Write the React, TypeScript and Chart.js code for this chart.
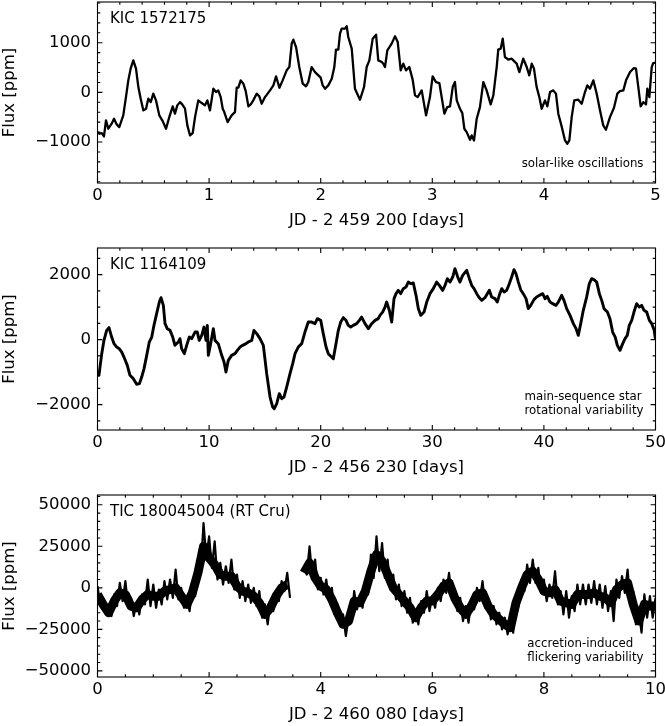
import React, { useEffect, useRef } from 'react';
import { Chart, registerables } from 'chart.js';

Chart.register(...registerables);

const FONT = '"DejaVu Sans", sans-serif';

// ---------- Panel 1: KIC 1572175 ----------
const p1Time = [
  0.0, 0.016, 0.038, 0.058, 0.076, 0.097, 0.127, 0.148, 0.172, 0.195,
  0.231, 0.255, 0.276, 0.297, 0.321, 0.345, 0.366, 0.387, 0.411, 0.435,
  0.455, 0.477, 0.5, 0.524, 0.554, 0.584, 0.614, 0.643, 0.674, 0.694,
  0.715, 0.739, 0.759, 0.784, 0.805, 0.829, 0.853, 0.874, 0.903, 0.934,
  0.963, 0.984, 1.008, 1.038, 1.062, 1.082, 1.104, 1.122, 1.136, 1.166,
  1.202, 1.232, 1.247, 1.262, 1.283, 1.307, 1.328, 1.352, 1.373, 1.396,
  1.426, 1.45, 1.471, 1.501, 1.546, 1.576, 1.6, 1.63, 1.659, 1.695,
  1.719, 1.74, 1.755, 1.779, 1.808, 1.839, 1.868, 1.889, 1.919, 1.949,
  1.979, 2.0, 2.018, 2.039, 2.068, 2.099, 2.122, 2.137, 2.158, 2.173,
  2.188, 2.218, 2.233, 2.247, 2.278, 2.307, 2.352, 2.388, 2.412, 2.436,
  2.466, 2.496, 2.516, 2.547, 2.561, 2.576, 2.597, 2.636, 2.666, 2.69,
  2.717, 2.74, 2.764, 2.794, 2.824, 2.845, 2.869, 2.905, 2.944, 2.979,
  3.003, 3.033, 3.063, 3.084, 3.108, 3.134, 3.159, 3.183, 3.203, 3.219,
  3.248, 3.269, 3.287, 3.308, 3.338, 3.353, 3.374, 3.398, 3.427, 3.457,
  3.487, 3.523, 3.547, 3.577, 3.591, 3.613, 3.631, 3.651, 3.681, 3.711,
  3.735, 3.756, 3.78, 3.815, 3.846, 3.869, 3.891, 3.911, 3.935, 3.959,
  3.98, 4.01, 4.031, 4.055, 4.084, 4.108, 4.129, 4.159, 4.189, 4.21,
  4.228, 4.249, 4.272, 4.308, 4.339, 4.368, 4.389, 4.413, 4.443, 4.473,
  4.503, 4.532, 4.556, 4.592, 4.628, 4.658, 4.682, 4.712, 4.736, 4.772,
  4.807, 4.825, 4.846, 4.867, 4.891, 4.915, 4.927, 4.945, 4.966, 4.98,
  5.0,
];
const p1Flux = [
  -800, -833, -820, -887, -565, -732, -631, -530, -645, -700,
  -464, -95, 242, 478, 645, 478, 107, -127, -363, -329,
  -127, -196, -26, -161, -464, -579, -732, -498, -282, -429,
  -262, -196, -242, -329, -665, -867, -820, -498, -161, -215,
  -262, -161, -363, 74, 7, 40, -95, -329, -397, -598,
  -464, -397, 94, 94, 242, 175, 27, -282, -242, -161,
  -26, -81, -228, -95, 40, 141, 323, 94, 242, 444,
  510, 982, 1062, 913, 510, 175, 121, 208, 510, 409,
  343, 296, 141, 74, 141, 276, 510, 861, 861, 1183,
  1284, 1284, 1331, 1115, 881, 74, -148, 107, 510, 645,
  1082, 1163, 645, 612, 578, 510, 847, 982, 1129, 1015,
  444, 578, 444, 510, 256, -60, -95, 40, -464, -95,
  323, 208, 188, -95, -429, -296, -282, 107, 208, -161,
  -329, -417, -732, -800, -954, -867, -968, -530, -296, 208,
  40, -242, -60, 510, 861, 881, 1082, 712, 659, 679,
  625, 578, 409, 679, 510, 343, 578, 478, 107, -95,
  -329, -161, -282, 7, 40, -26, -429, -685, -968, -1034,
  -968, -498, -161, -148, -228, 7, 141, 74, 242, -26,
  -363, -665, -753, -498, -309, -26, 27, 40, 242, 409,
  490, 478, 107, -282, -196, -242, 74, -95, 510, 591,
  600,
];
const p1XTicks = [0, 1, 2, 3, 4, 5];
const p1YTicks = [-1000, 0, 1000];

// ---------- Panel 2: KIC 1164109 ----------
const p2Time = [
  0.02, 0.13, 0.38, 0.58, 0.82, 1.03, 1.27, 1.48, 1.72, 1.95,
  2.17, 2.37, 2.67, 2.91, 3.21, 3.51, 3.75, 3.96, 4.17, 4.41,
  4.64, 4.86, 5.06, 5.3, 5.54, 5.69, 5.9, 6.05, 6.25, 6.5,
  6.74, 6.94, 7.24, 7.39, 7.54, 7.78, 7.99, 8.23, 8.44, 8.74,
  8.94, 9.12, 9.34, 9.54, 9.72, 9.84, 9.93, 10.14, 10.38, 10.53,
  10.82, 11.13, 11.34, 11.51, 11.72, 12.02, 12.32, 12.53, 12.77, 13.01,
  13.31, 13.51, 13.82, 14.02, 14.27, 14.56, 14.86, 15.16, 15.46, 15.7,
  15.84, 16.06, 16.29, 16.51, 16.71, 16.95, 17.25, 17.49, 17.7, 17.99,
  18.3, 18.59, 18.89, 19.19, 19.49, 19.7, 20.0, 20.23, 20.48, 20.68,
  21.13, 21.37, 21.58, 21.79, 22.03, 22.27, 22.47, 22.69, 22.92, 23.22,
  23.46, 23.67, 23.97, 24.27, 24.57, 24.87, 25.16, 25.31, 25.55, 25.76,
  25.91, 26.15, 26.36, 26.57, 26.75, 26.95, 27.17, 27.4, 27.64, 27.85,
  28.06, 28.3, 28.54, 28.75, 28.96, 29.26, 29.5, 29.79, 30.09, 30.39,
  30.63, 30.93, 31.14, 31.35, 31.59, 31.83, 32.03, 32.28, 32.48, 32.72,
  33.08, 33.32, 33.53, 33.74, 33.98, 34.21, 34.43, 34.72, 34.93, 35.11,
  35.32, 35.62, 35.82, 36.0, 36.22, 36.43, 36.67, 36.9, 37.11, 37.32,
  37.5, 37.71, 37.92, 38.15, 38.4, 38.6, 38.82, 39.11, 39.35, 39.59,
  39.89, 40.1, 40.3, 40.55, 40.79, 41.08, 41.29, 41.59, 41.8, 42.04,
  42.34, 42.64, 42.88, 43.08, 43.3, 43.53, 43.83, 44.07, 44.28, 44.49,
  44.73, 44.97, 45.18, 45.39, 45.69, 45.92, 46.16, 46.39, 46.58, 46.82,
  47.06, 47.27, 47.47, 47.65, 47.87, 48.07, 48.31, 48.55, 48.76, 48.97,
  49.21, 49.45, 49.66, 49.87, 50.0,
];
const p2Flux = [
  -1050, -1098, -431, -22, 286, 369, 80, -123, -228, -277,
  -382, -535, -791, -1098, -1200, -1375, -1354, -1151, -892, -483,
  -74, 80, 440, 800, 1157, 1292, 1055, 492, 338, 286,
  80, -175, -74, 31, -277, -431, -175, 80, 31, 234,
  234, -22, 132, 388, -22, 440, -483, -123, 338, -22,
  -123, -483, -689, -997, -637, -483, -431, -329, -228, -175,
  -123, -74, -22, 286, 185, 31, -175, -1046, -1766, -2074,
  -2123, -1969, -1662, -1815, -1766, -1458, -1046, -738, -431, -228,
  -123, 234, 541, 541, 492, 646, 594, 185, -228, -431,
  -585, -123, 286, 541, 677, 594, 440, 388, 440, 492,
  594, 695, 492, 338, 492, 594, 646, 748, 849, 1003,
  1157, 902, 541, 1262, 1415, 1517, 1415, 1569, 1618, 1772,
  1723, 1742, 1363, 954, 748, 849, 1157, 1415, 1569, 1772,
  1671, 1517, 1671, 1877, 1772, 1926, 2185, 1926, 1772, 1978,
  2132, 1877, 1671, 1569, 1415, 1292, 1209, 1292, 1415, 1517,
  1311, 1262, 1157, 1363, 1569, 1465, 1517, 1723, 1926, 2154,
  2031, 1772, 1538, 1415, 1262, 954, 1055, 1231, 1311, 1363,
  1415, 1262, 1332, 1157, 1108, 1055, 1157, 1363, 1209, 954,
  748, 492, 338, 132, 492, 902, 1311, 1723, 1877, 1846,
  1772, 1415, 1209, 954, 849, 646, 234, 80, -175, -329,
  -123, 31, 132, 440, 594, 849, 1108, 1003, 1055, 902,
  849, 594, 492, 308, 0,
];
const p2XTicks = [0, 10, 20, 30, 40, 50];
const p2YTicks = [-2000, 0, 2000];

// ---------- Panel 3: TIC 180045004 (RT Cru) ----------
// band centre and upper edge of the flickering light curve, read every 0.1 d from 0.0 d
const p3Time = [
  0.0, 0.1, 0.2, 0.3, 0.4, 0.5, 0.6, 0.7, 0.8, 0.9,
  1.0, 1.1, 1.2, 1.3, 1.4, 1.5, 1.6, 1.7, 1.8, 1.9,
  2.0, 2.1, 2.2, 2.3, 2.4, 2.5, 2.6, 2.7, 2.8, 2.9,
  3.0, 3.1, 3.2, 3.3, 3.4, 3.5, 3.6, 3.7, 3.8, 3.9,
  4.0, 4.1, 4.2, 4.3, 4.4, 4.5, 4.6, 4.7, 4.8, 4.9,
  5.0, 5.1, 5.2, 5.3, 5.4, 5.5, 5.6, 5.7, 5.8, 5.9,
  6.0, 6.1, 6.2, 6.3, 6.4, 6.5, 6.6, 6.7, 6.8, 6.9,
  7.0, 7.1, 7.2, 7.3, 7.4, 7.5, 7.6, 7.7, 7.8, 7.9,
  8.0, 8.1, 8.2, 8.3, 8.4, 8.5, 8.6, 8.7, 8.8, 8.9,
  9.0, 9.1, 9.2, 9.3, 9.4, 9.5, 9.6, 9.7, 9.8, 9.9,
  10.0,
];
const p3Center = [
  -4000, -10000, -15000, -8000, -3000, -4000, -11000, -12000, -7000, -4000,
  -5000, -5000, -2000, -1000, 0, -5000, -10000, -3000, 9000, 25000,
  18000, 14000, 8000, 7000, 7000, 1000, -2000, -3000, -5000, -9000,
  -16000, -12000, -5000, 0, 2000, null, null, 9000, 15000, 6000,
  1000, -1000, -7000, -15000, -22000, -20000, -8000, -9000, -2000, 10000,
  20000, 16000, 8000, 0, -4000, -8000, -12000, -18000, -12000, -8000,
  -8000, -4000, 1000, 3000, -6000, -12000, -16000, -11000, -4000, -3000,
  -11000, -16000, -19000, -22000, -24000, -9000, 0, 8000, 10000, 5000,
  -2000, -3000, -1000, -8000, -9000, -10000, -4000, -4000, -4000, -3000,
  -5000, -6000, -9000, -1000, 2000, 3000, -10000, -20000, -10000, -11000,
  -11000,
];
const p3Upper = [
  1000, -6000, -12000, -4000, 3000, 4000, -6000, -9000, -4000, 5000,
  2000, -1000, 4000, 5000, 11000, 0, -6000, 0, 15000, 39000,
  31000, 28000, 15000, 13000, 17000, 8000, 4000, 2000, 0, -2000,
  -10000, -8000, -2000, 4000, 9000, null, null, 11000, 25000, 17000,
  6000, 5000, 0, -10000, -16000, -18000, -2000, -5000, 2000, 20000,
  31000, 27000, 17000, 8000, 2000, -2000, -6000, -14000, -8000, -2000,
  -5000, 0, 5000, 9000, -1000, -6000, -11000, -7000, 0, 4000,
  -6000, -11000, -15000, -18000, -20000, -4000, 5000, 14000, 17000, 12000,
  5000, 2000, 10000, -2000, -2000, -5000, 2000, 2000, 2000, 4000,
  2000, 1000, -2000, 5000, 7000, 11000, -2000, -14000, -4000, -5000,
  -6000,
];
// lower edge of the band, read every 0.1 d from 0.05 d
const p3LowerTime = [
  0.05, 0.15, 0.25, 0.35, 0.45, 0.55, 0.65, 0.75, 0.85, 0.95,
  1.05, 1.15, 1.25, 1.35, 1.45, 1.55, 1.65, 1.75, 1.85, 1.95,
  2.05, 2.15, 2.25, 2.35, 2.45, 2.55, 2.65, 2.75, 2.85, 2.95,
  3.05, 3.15, 3.25, 3.35, 3.45, 3.55, 3.65, 3.75, 3.85, 3.95,
  4.05, 4.15, 4.25, 4.35, 4.45, 4.55, 4.65, 4.75, 4.85, 4.95,
  5.05, 5.15, 5.25, 5.35, 5.45, 5.55, 5.65, 5.75, 5.85, 5.95,
  6.05, 6.15, 6.25, 6.35, 6.45, 6.55, 6.65, 6.75, 6.85, 6.95,
  7.05, 7.15, 7.25, 7.35, 7.45, 7.55, 7.65, 7.75, 7.85, 7.95,
  8.05, 8.15, 8.25, 8.35, 8.45, 8.55, 8.65, 8.75, 8.85, 8.95,
  9.05, 9.15, 9.25, 9.35, 9.45, 9.55, 9.65, 9.75, 9.85, 9.95,
];
const p3Lower = [
  -10000, -16000, -17000, -11000, -8000, -12000, -17000, -16000, -10000, -11000,
  -12000, -10000, -7000, -6000, -7000, -12000, -14000, -5000, 10000, 18000,
  12000, 5000, 2000, 3000, -1000, -6000, -8000, -9000, -11000, -18000,
  -22000, -14000, -8000, -2000, -6000, null, null, 8000, 6000, -1000,
  -4000, -8000, -16000, -23000, -29000, -20000, -13000, -12000, -4000, 6000,
  10000, 6000, -1000, -7000, -11000, -15000, -21000, -22000, -15000, -14000,
  -12000, -8000, -3000, -6000, -14000, -20000, -21000, -13000, -8000, -12000,
  -19000, -22000, -25000, -28000, -27000, -11000, -2000, 3000, 3000, -3000,
  -8000, -6000, -10000, -16000, -18000, -14000, -10000, -10000, -9000, -10000,
  -12000, -14000, -20000, -6000, -3000, -10000, -22000, -27000, -18000, -18000,
];
const p3XTicks = [0, 2, 4, 6, 8, 10];
const p3YTicks = [-50000, -25000, 0, 25000, 50000];

// ---------- helpers ----------
const fmt = (v: number) => (v < 0 ? '\u2212' + String(Math.abs(v)) : String(v));

function minorList(min: number, max: number, step: number): number[] {
  const out: number[] = [];
  const k0 = Math.ceil(min / step - 1e-9);
  const k1 = Math.floor(max / step + 1e-9);
  for (let k = k0; k <= k1; k++) out.push(+(k * step).toFixed(6));
  return out;
}

type Pt = { x: number; y: number | null };

function zip(t: number[], f: (number | null)[]): Pt[] {
  const n = Math.min(t.length, f.length);
  const out: Pt[] = [];
  for (let i = 0; i < n; i++) out.push({ x: t[i], y: f[i] });
  return out;
}

function interleave(): Pt[] {
  const out: Pt[] = [];
  for (let i = 0; i < p3Time.length; i++) {
    out.push({ x: p3Time[i], y: p3Upper[i] });
    if (i < p3LowerTime.length) out.push({ x: p3LowerTime[i], y: p3Lower[i] });
  }
  return out;
}

const framePlugin = {
  id: 'frameDeco',
  afterDraw(chart: any, _args: any, opts: any) {
    const { ctx, chartArea: a } = chart;
    const xs = chart.scales.x;
    const ys = chart.scales.y;
    ctx.save();
    ctx.strokeStyle = '#000';
    ctx.lineWidth = 1.1;
    ctx.beginPath();
    const xSets: [number[], number][] = [[opts.xMinor, 2.8], [opts.xMajor, 4.9]];
    for (const [vals, len] of xSets) {
      for (const v of vals) {
        const p = xs.getPixelForValue(v);
        if (p < a.left - 0.5 || p > a.right + 0.5) continue;
        ctx.moveTo(p, a.bottom);
        ctx.lineTo(p, a.bottom - len);
        ctx.moveTo(p, a.top);
        ctx.lineTo(p, a.top + len);
      }
    }
    const ySets: [number[], number][] = [[opts.yMinor, 2.8], [opts.yMajor, 4.9]];
    for (const [vals, len] of ySets) {
      for (const v of vals) {
        const p = ys.getPixelForValue(v);
        if (p < a.top - 0.5 || p > a.bottom + 0.5) continue;
        ctx.moveTo(a.left, p);
        ctx.lineTo(a.left + len, p);
        ctx.moveTo(a.right, p);
        ctx.lineTo(a.right - len, p);
      }
    }
    ctx.stroke();
    ctx.strokeRect(a.left, a.top, a.right - a.left, a.bottom - a.top);

    ctx.fillStyle = '#000';
    ctx.textBaseline = 'middle';
    ctx.textAlign = 'left';
    ctx.font = `15px ${FONT}`;
    ctx.fillText(opts.label, a.left + 12.5, a.top + 17);

    ctx.font = `11.8px ${FONT}`;
    const lines: string[] = opts.note;
    const w = Math.max(...lines.map((l) => ctx.measureText(l).width));
    const x0 = a.right - 12 - w;
    lines.forEach((l, i) => {
      ctx.fillText(l, x0, a.bottom - 19 - (lines.length - 1 - i) * 14);
    });
    ctx.restore();
  },
};

type Series = { data: Pt[]; width: number };

type PanelCfg = {
  height: number;
  padTop: number;
  xAxisH: number;
  xMin: number;
  xMax: number;
  yMin: number;
  yMax: number;
  xTicks: number[];
  yTicks: number[];
  xMinorStep: number;
  yMinorStep: number;
  titlePad: number;
  xTitle: string;
  label: string;
  note: string[];
  series: Series[];
};

const panels: PanelCfg[] = [
  {
    height: 240, padTop: 2, xAxisH: 57, xMin: 0, xMax: 5, yMin: -1825, yMax: 1820,
    xTicks: p1XTicks, yTicks: p1YTicks, xMinorStep: 0.2, yMinorStep: 200, titlePad: 9.1,
    xTitle: 'JD - 2 459 200 [days]', label: 'KIC 1572175', note: ['solar-like oscillations'],
    series: [{ data: zip(p1Time, p1Flux), width: 2.3 }],
  },
  {
    height: 245, padTop: 8, xAxisH: 55, xMin: 0, xMax: 50, yMin: -2780, yMax: 2820,
    xTicks: p2XTicks, yTicks: p2YTicks, xMinorStep: 2, yMinorStep: 500, titlePad: 7.1,
    xTitle: 'JD - 2 456 230 [days]', label: 'KIC 1164109',
    note: ['main-sequence star', 'rotational variability'],
    series: [{ data: zip(p2Time, p2Flux), width: 2.9 }],
  },
  {
    height: 241, padTop: 10, xAxisH: 49, xMin: 0, xMax: 10, yMin: -53700, yMax: 55900,
    xTicks: p3XTicks, yTicks: p3YTicks, xMinorStep: 0.5, yMinorStep: 5000, titlePad: 1.1,
    xTitle: 'JD - 2 460 080 [days]', label: 'TIC 180045004 (RT Cru)',
    note: ['accretion-induced', 'flickering variability'],
    series: [
      { data: zip(p3Time, p3Center), width: 9 },
      { data: interleave(), width: 2.2 },
    ],
  },
];

function Panel({ cfg }: { cfg: PanelCfg }) {
  const ref = useRef<HTMLCanvasElement | null>(null);
  useEffect(() => {
    if (!ref.current) return;
    const tickFont = { family: '"DejaVu Sans", sans-serif', size: 16.5 };
    const chart = new Chart(ref.current, {
      type: 'line',
      data: {
        datasets: cfg.series.map((s) => ({
          data: s.data as any,
          borderColor: '#000',
          borderWidth: s.width,
          pointRadius: 0,
          tension: 0,
          fill: false,
          spanGaps: false,
          borderJoinStyle: 'round',
        })),
      },
      options: {
        responsive: false,
        animation: false,
        events: [],
        layout: { padding: { top: cfg.padTop, right: 9.5, bottom: 0, left: 0 } },
        plugins: {
          legend: { display: false },
          tooltip: { enabled: false },
          frameDeco: {
            xMajor: cfg.xTicks,
            yMajor: cfg.yTicks,
            xMinor: minorList(cfg.xMin, cfg.xMax, cfg.xMinorStep),
            yMinor: minorList(cfg.yMin, cfg.yMax, cfg.yMinorStep),
            label: cfg.label,
            note: cfg.note,
          },
        } as any,
        scales: {
          x: {
            type: 'linear',
            min: cfg.xMin,
            max: cfg.xMax,
            afterFit: (s: any) => {
              s.height = cfg.xAxisH;
              s.paddingLeft = 0;
              s.paddingRight = 0;
            },
            afterBuildTicks: (s: any) => { s.ticks = cfg.xTicks.map((v) => ({ value: v })); },
            ticks: {
              font: tickFont, color: '#000', padding: 2.6, maxRotation: 0, autoSkip: false,
              callback: (v: any) => fmt(Number(v)),
            },
            grid: { display: false, drawTicks: false },
            border: { display: false },
            title: {
              display: true, text: cfg.xTitle, font: tickFont, color: '#000',
              padding: { top: 0, bottom: cfg.titlePad },
            },
          },
          y: {
            type: 'linear',
            min: cfg.yMin,
            max: cfg.yMax,
            afterFit: (s: any) => {
              s.width = 97.5;
              s.paddingTop = 0;
              s.paddingBottom = 0;
            },
            afterBuildTicks: (s: any) => { s.ticks = cfg.yTicks.map((v) => ({ value: v })); },
            ticks: {
              font: tickFont, color: '#000', padding: 6.5, autoSkip: false,
              callback: (v: any) => fmt(Number(v)),
            },
            grid: { display: false, drawTicks: false },
            border: { display: false },
            title: {
              display: true, text: 'Flux [ppm]', font: tickFont, color: '#000',
              padding: { top: 0, bottom: 0 },
            },
          },
        },
      } as any,
      plugins: [framePlugin as any],
    });
    return () => chart.destroy();
  }, [cfg]);
  return (
    <canvas
      ref={ref}
      width={665}
      height={cfg.height}
      style={{ display: 'block', width: 665, height: cfg.height }}
    />
  );
}

export default function App() {
  return (
    <div style={{ position: 'absolute', left: 0, top: 0, width: 665, background: '#fff' }}>
      {panels.map((p, i) => (
        <Panel key={i} cfg={p} />
      ))}
    </div>
  );
}
